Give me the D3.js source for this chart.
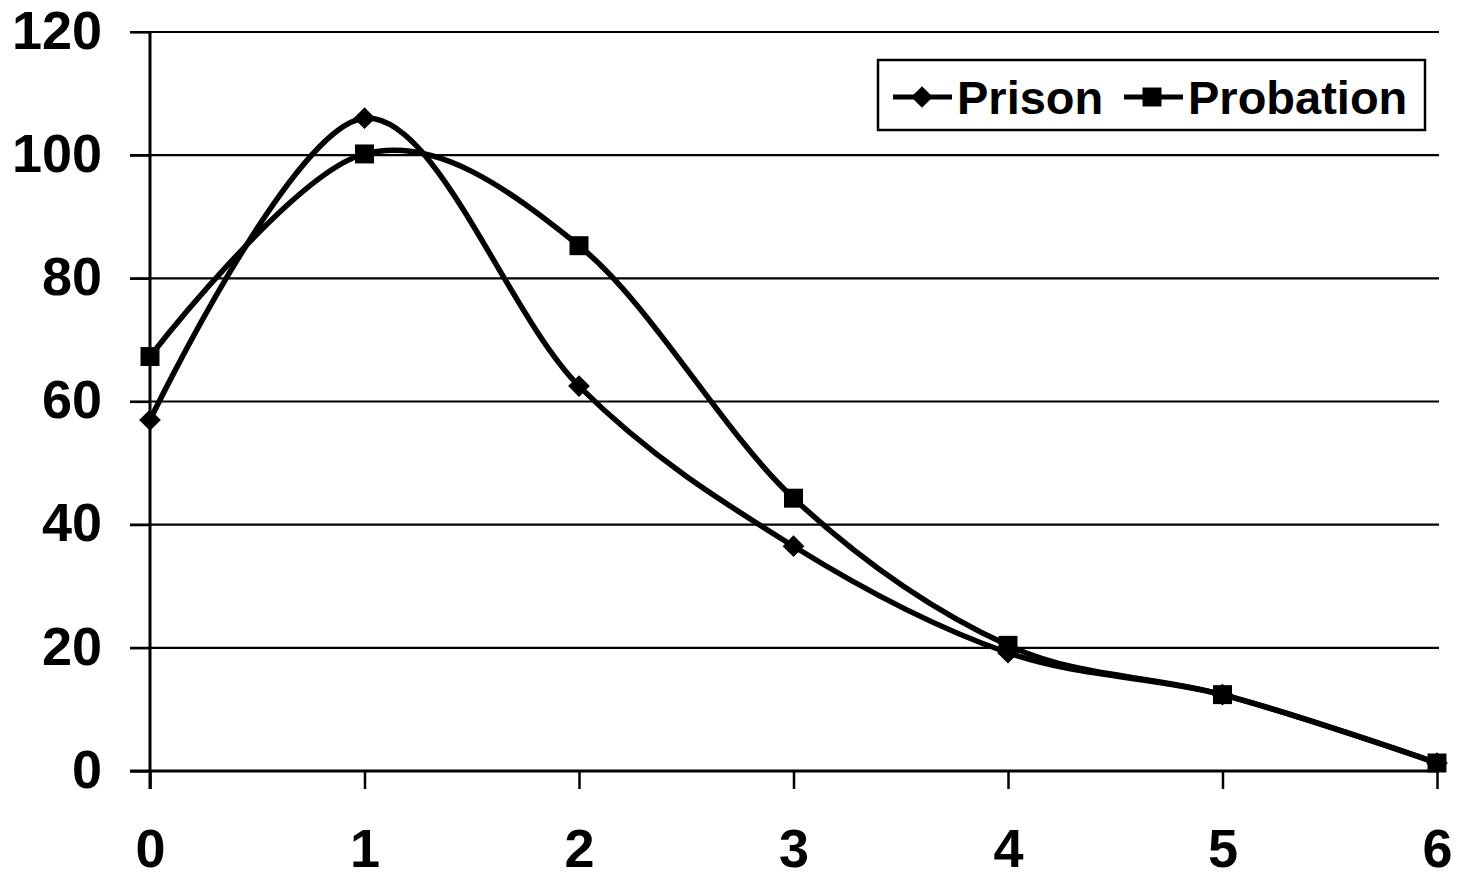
<!DOCTYPE html>
<html>
<head>
<meta charset="utf-8">
<script src="https://cdn.jsdelivr.net/npm/d3@7"></script>
<style>
  body { margin: 0; background: #fff; }
  text { font-family: "Liberation Sans", Arial, sans-serif; font-weight: bold; fill: #000; }
</style>
</head>
<body>
<div id="chart"></div>
<script>
// data
var years = [0, 1, 2, 3, 4, 5, 6];
var prison = [57, 106, 62.5, 36.5, 19.2, 12.4, 1.3];
var probation = [67.3, 100.2, 85.3, 44.3, 20.4, 12.4, 1.3];
var yTicks = [0, 20, 40, 60, 80, 100, 120];

// set the dimensions and margins of the graph
var margin = {top: 32, right: 20, bottom: 106, left: 150},
    width = 1458 - margin.left - margin.right,
    height = 877 - margin.top - margin.bottom;

var x = d3.scaleLinear().domain([0, 6]).range([0, 1287]);
var y = d3.scaleLinear().domain([0, 120]).range([height, 0]);

var svg = d3.select("#chart").append("svg")
    .attr("width", 1458)
    .attr("height", 877)
  .append("g")
    .attr("transform", "translate(" + margin.left + "," + margin.top + ")");

// gridlines
svg.selectAll(".grid")
    .data(yTicks)
  .enter().append("line")
    .attr("x1", -20)
    .attr("x2", x(6) + 2)
    .attr("y1", function(d) { return y(d); })
    .attr("y2", function(d) { return y(d); })
    .attr("stroke", "#000")
    .attr("stroke-width", 2.2);

// y axis
var yAxis = svg.append("g")
    .call(d3.axisLeft(y).tickValues(yTicks).tickSize(20).tickPadding(28));
yAxis.select(".domain").attr("d", "M0,0V" + (height + 18)).attr("stroke-width", 3);
yAxis.selectAll(".tick line").attr("stroke-width", 2.2);
yAxis.selectAll("text").style("font-size", "54px").attr("dy", "0.3em");

// x axis
var xAxis = svg.append("g")
    .attr("transform", "translate(0," + height + ")")
    .call(d3.axisBottom(x).tickValues(years).tickFormat(d3.format("d")).tickSize(18).tickPadding(40));
xAxis.select(".domain").attr("d", "M-20,0H" + (x(6) + 2)).attr("stroke-width", 3);
xAxis.selectAll(".tick line").attr("stroke-width", 2.5);
xAxis.selectAll("text").style("font-size", "54px").attr("dy", "0.7em");

// smoothed lines
var line = d3.line()
    .x(function(d, i) { return x(years[i]); })
    .y(function(d) { return y(d); })
    .curve(d3.curveCatmullRom.alpha(0));

svg.append("path")
    .datum(prison)
    .attr("fill", "none")
    .attr("stroke", "#000")
    .attr("stroke-width", 5.5)
    .attr("d", line);

svg.append("path")
    .datum(probation)
    .attr("fill", "none")
    .attr("stroke", "#000")
    .attr("stroke-width", 5.5)
    .attr("d", line);

var diamond = d3.symbol().type(d3.symbolDiamond2).size(300);
var square = d3.symbol().type(d3.symbolSquare).size(360);

svg.selectAll(".prisonpt")
    .data(prison)
  .enter().append("path")
    .attr("d", diamond)
    .attr("transform", function(d, i) { return "translate(" + x(years[i]) + "," + y(d) + ")"; });

svg.selectAll(".probpt")
    .data(probation)
  .enter().append("path")
    .attr("d", square)
    .attr("transform", function(d, i) { return "translate(" + x(years[i]) + "," + y(d) + ")"; });

// legend
var legend = svg.append("g")
    .attr("transform", "translate(" + (878 - margin.left) + "," + (60 - margin.top) + ")");

legend.append("rect")
    .attr("width", 547)
    .attr("height", 70)
    .attr("fill", "#fff")
    .attr("stroke", "#000")
    .attr("stroke-width", 2.5);

legend.append("line")
    .attr("x1", 15).attr("x2", 74).attr("y1", 37).attr("y2", 37)
    .attr("stroke", "#000").attr("stroke-width", 5);
legend.append("path").attr("d", diamond).attr("transform", "translate(44,37)");
legend.append("text").attr("x", 79).attr("y", 54).style("font-size", "47px").text("Prison");

legend.append("line")
    .attr("x1", 246).attr("x2", 305).attr("y1", 37).attr("y2", 37)
    .attr("stroke", "#000").attr("stroke-width", 5);
legend.append("path").attr("d", square).attr("transform", "translate(274,37)");
legend.append("text").attr("x", 310).attr("y", 54).style("font-size", "47px").text("Probation");
</script>
</body>
</html>
